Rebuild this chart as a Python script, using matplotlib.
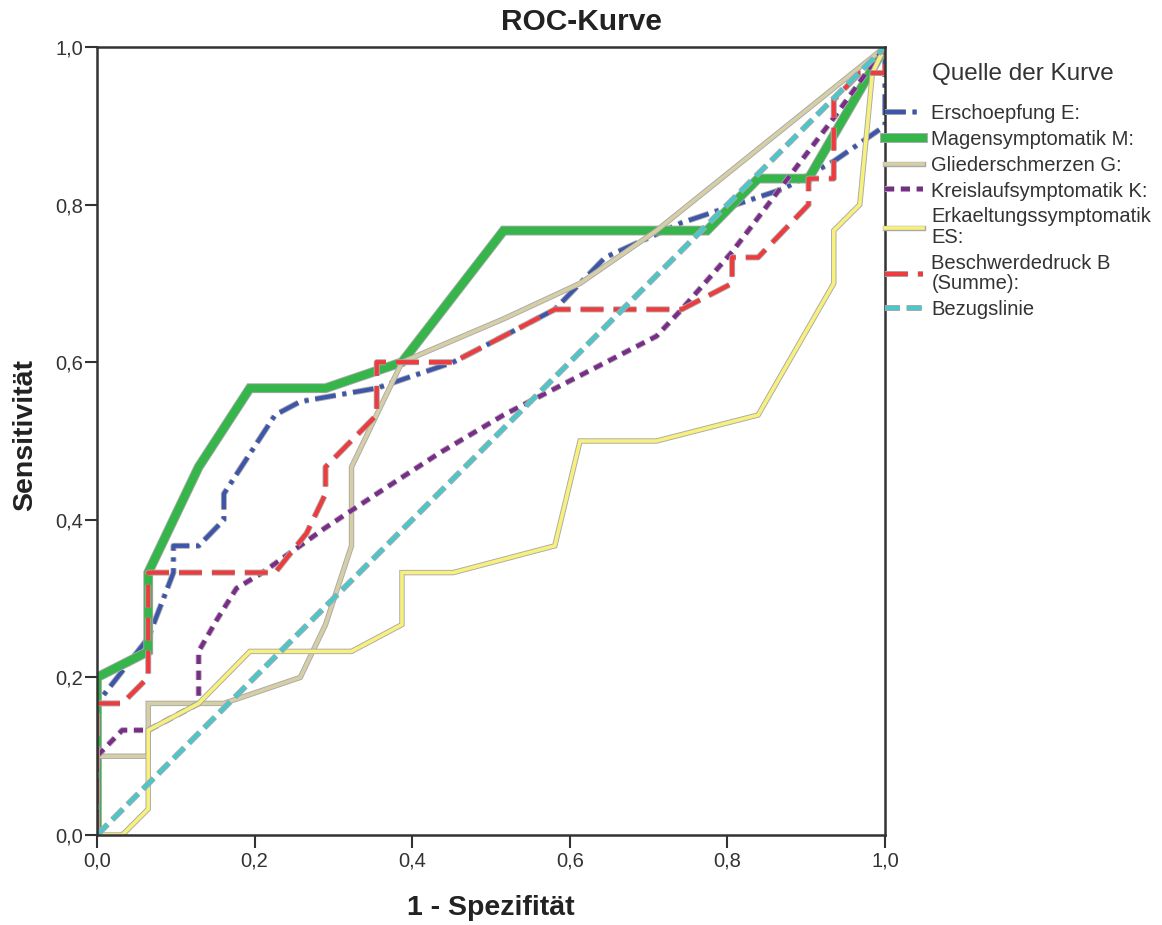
import matplotlib
matplotlib.use("Agg")
import matplotlib.pyplot as plt
import matplotlib.patheffects as pe
from matplotlib.ticker import FuncFormatter, MultipleLocator

plt.rcParams["font.family"] = ["Liberation Sans", "DejaVu Sans"]

# 1 - specificity / sensitivity for each test variable
erschoepfung_x = [0, 0, 0.065, 0.097, 0.097, 0.129, 0.161, 0.161, 0.226, 0.258, 0.355, 0.452,
                  0.516, 0.581, 0.645, 0.742, 0.871, 0.935, 1.0, 1.0]
erschoepfung_y = [0, 0.167, 0.25, 0.333, 0.367, 0.367, 0.4, 0.433, 0.533, 0.55, 0.567, 0.6,
                  0.633, 0.667, 0.733, 0.777, 0.82, 0.855, 0.9, 1.0]

magen_x = [0, 0, 0.065, 0.065, 0.129, 0.194, 0.29, 0.387, 0.516, 0.774, 0.839, 0.903, 1.0]
magen_y = [0, 0.2, 0.233, 0.333, 0.467, 0.567, 0.567, 0.6, 0.767, 0.767, 0.833, 0.833, 1.0]

glieder_x = [0, 0, 0.065, 0.065, 0.161, 0.258, 0.29, 0.323, 0.323, 0.387, 0.516, 0.613, 0.71, 1.0]
glieder_y = [0, 0.1, 0.1, 0.167, 0.167, 0.2, 0.267, 0.367, 0.467, 0.6, 0.655, 0.7, 0.767, 1.0]

kreislauf_x = [0, 0, 0.032, 0.065, 0.129, 0.129, 0.152, 0.177, 0.21, 0.29, 0.355, 0.435,
               0.516, 0.613, 0.71, 0.742, 0.806, 0.935, 1.0]
kreislauf_y = [0, 0.1, 0.133, 0.133, 0.167, 0.233, 0.273, 0.313, 0.333, 0.39, 0.433, 0.485,
               0.533, 0.583, 0.633, 0.667, 0.74, 0.91, 1.0]

erkaeltung_x = [0, 0.032, 0.065, 0.065, 0.129, 0.194, 0.323, 0.387, 0.387, 0.452, 0.581, 0.613,
                0.71, 0.839, 0.935, 0.935, 0.968, 0.984, 1.0]
erkaeltung_y = [0, 0, 0.033, 0.133, 0.167, 0.233, 0.233, 0.267, 0.333, 0.333, 0.367, 0.5,
                0.5, 0.533, 0.7, 0.767, 0.8, 0.967, 1.0]

beschwerde_x = [0, 0, 0.032, 0.065, 0.065, 0.226, 0.266, 0.29, 0.29, 0.355, 0.355, 0.452, 0.516,
                0.581, 0.742, 0.806, 0.806, 0.839, 0.903, 0.903, 0.935, 0.935, 0.968, 1.0, 1.0]
beschwerde_y = [0, 0.167, 0.167, 0.2, 0.333, 0.333, 0.383, 0.433, 0.467, 0.533, 0.6, 0.6, 0.633,
                0.667, 0.667, 0.7, 0.733, 0.733, 0.8, 0.833, 0.833, 0.933, 0.967, 0.967, 1.0]

bezug_x = [0, 1]
bezug_y = [0, 1]

curves = [
    ("Erschoepfung E:", erschoepfung_x, erschoepfung_y, "#3E56AA", 3.0, (0, (5, 1.6, 1, 1.6))),
    ("Magensymptomatik M:", magen_x, magen_y, "#35B54A", 5.8, "-"),
    ("Gliederschmerzen G:", glieder_x, glieder_y, "#D6CFA6", 2.6, "-"),
    ("Kreislaufsymptomatik K:", kreislauf_x, kreislauf_y, "#7B2C8B", 3.0, (0, (2.2, 1.6))),
    ("Erkaeltungssymptomatik\nES:", erkaeltung_x, erkaeltung_y, "#F7F07C", 2.6, "-"),
    ("Beschwerdedruck B\n(Summe):", beschwerde_x, beschwerde_y, "#EE3B3D", 3.0, (0, (5.5, 2.4))),
    ("Bezugslinie", bezug_x, bezug_y, "#4DC5C9", 3.0, (0, (3.6, 1.6))),
]

fig = plt.figure(figsize=(11.62, 9.25), dpi=100)
ax = fig.add_axes([97 / 1162, 90 / 925, 788 / 1162, 788 / 925])

for label, xs, ys, colour, lw, style in curves:
    ax.plot(xs, ys, color=colour, linewidth=lw, linestyle=style, label=label,
            solid_joinstyle="miter", dash_capstyle="butt",
            path_effects=[pe.Stroke(linewidth=lw + 1.3, foreground="#a9a9a9"), pe.Normal()])

ax.set_xlim(0, 1)
ax.set_ylim(0, 1)
ax.xaxis.set_major_locator(MultipleLocator(0.2))
ax.yaxis.set_major_locator(MultipleLocator(0.2))
comma = FuncFormatter(lambda v, pos: f"{v:.1f}".replace(".", ","))
ax.xaxis.set_major_formatter(comma)
ax.yaxis.set_major_formatter(comma)
ax.tick_params(axis="both", direction="out", length=9, width=1.5, colors="#333333",
               labelsize=14.5, labelcolor="#333333")
ax.tick_params(axis="y", pad=1)
ax.tick_params(axis="x", pad=3)
for spine in ax.spines.values():
    spine.set_color("#333333")
    spine.set_linewidth(1.8)

ax.set_xlabel("1 - Spezifität", fontsize=20.5, fontweight="bold", color="#222222")
ax.set_ylabel("Sensitivität", fontsize=20.5, fontweight="bold", color="#222222")
ax.xaxis.set_label_coords(0.5, -0.093)
ax.xaxis.label.set_verticalalignment("center")
ax.yaxis.set_label_coords(-0.091, 0.508)
ax.yaxis.label.set_verticalalignment("center")

fig.text(0.5, 1 - 22 / 925, "ROC-Kurve", ha="center", va="center",
         fontsize=21.5, fontweight="bold", color="#222222")

fig.text(932 / 1162, 1 - 74 / 925, "Quelle der Kurve", ha="left", va="center",
         fontsize=17.5, color="#333333")
leg = ax.legend(loc="upper left", bbox_to_anchor=(885 / 1162, 1 - 104 / 925),
                bbox_transform=fig.transFigure, frameon=False, fontsize=14.5,
                handlelength=1.9, handletextpad=0.4, labelspacing=0.34,
                borderpad=0, borderaxespad=0)
for t in leg.get_texts():
    t.set_linespacing(1.1)
    t.set_color("#333333")

fig.savefig("out.png", dpi=100)
